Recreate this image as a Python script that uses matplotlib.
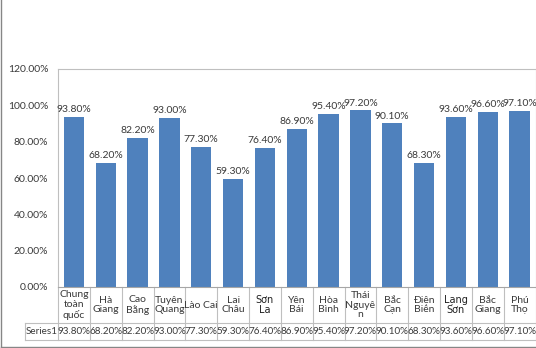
import matplotlib
matplotlib.use("Agg")
import matplotlib.pyplot as plt
from matplotlib.lines import Line2D
from matplotlib.ticker import FuncFormatter

categories = ["Chung\ntoàn\nquốc", "Hà\nGiang", "Cao\nBằng", "Tuyên\nQuang", "Lào Cai",
              "Lai\nChâu", "Sơn\nLa", "Yên\nBái", "Hòa\nBình", "Thái\nNguyê\nn",
              "Bắc\nCạn", "Điện\nBiên", "Lạng\nSơn", "Bắc\nGiang", "Phú\nThọ"]
values = [93.80, 68.20, 82.20, 93.00, 77.30, 59.30, 76.40, 86.90, 95.40, 97.20,
          90.10, 68.30, 93.60, 96.60, 97.10]
series_name = "Series1"
yticks = [0, 20, 40, 60, 80, 100, 120]

plt.rcParams['font.family'] = ['Lato', 'DejaVu Sans']
TXT = '#3a3a3a'
FS = 7.5
W, H = 536, 348
fig = plt.figure(figsize=(W/100, H/100), dpi=100)
ax_l, ax_r, ax_top, ax_bot = 58, 535.5, 69, 287
ax = fig.add_axes([ax_l/W, 1-ax_bot/H, (ax_r-ax_l)/W, (ax_bot-ax_top)/H])

x = list(range(len(categories)))
bars = ax.bar(x, values, width=0.64, color='#4f81bd', zorder=2)
ax.bar_label(bars, labels=[f"{v:.2f}%" for v in values], padding=2, fontsize=FS, color=TXT)

ax.set_xlim(-0.5, len(categories)-0.5)
ax.set_ylim(0, 120)
ax.set_yticks(yticks)
ax.yaxis.set_major_formatter(FuncFormatter(lambda v, p: f"{v:.2f}%"))
ax.tick_params(axis='y', length=0, labelsize=FS, labelcolor=TXT, pad=7)
ax.set_xticks([])
for s in ax.spines.values():
    s.set_color('#bfbfbf')
    s.set_linewidth(0.8)
ax.spines['bottom'].set_color('#a6a6a6')

# data table
ph = ax_bot - ax_top
def ay(py):
    return -(py - ax_bot) / ph
row1_bot = ay(323)
row2_bot = ay(340)
left_cell = (25 - ax_l) / (ax_r - ax_l)
xt = ax.get_xaxis_transform()
lc = '#bfbfbf'
for i in range(len(categories) + 1):
    ax.plot([i-0.5, i-0.5], [0, row2_bot], transform=xt, color=lc, lw=0.8, clip_on=False)
ax.plot([left_cell, 1], [row1_bot, row1_bot], transform=ax.transAxes, color=lc, lw=0.8, clip_on=False)
ax.plot([left_cell, 1], [row2_bot, row2_bot], transform=ax.transAxes, color=lc, lw=0.8, clip_on=False)
ax.plot([left_cell, left_cell], [row1_bot, row2_bot], transform=ax.transAxes, color=lc, lw=0.8, clip_on=False)
for i, (c, v) in enumerate(zip(categories, values)):
    if 'ơ' in c:
        ax.text(i, (0 + row1_bot)/2, c, transform=xt, ha='center', va='center',
                fontsize=7, color='#202020', linespacing=1.1, clip_on=False,
                family='DejaVu Sans')
    else:
        ax.text(i, (0 + row1_bot)/2, c, transform=xt, ha='center', va='center',
                fontsize=FS, color=TXT, linespacing=1.1, clip_on=False)
    ax.text(i, (row1_bot + row2_bot)/2, f"{v:.2f}%", transform=xt, ha='center', va='center',
            fontsize=7.1, color=TXT, clip_on=False)
ax.text((left_cell + 0)/2, (row1_bot + row2_bot)/2, series_name, transform=ax.transAxes,
        ha='center', va='center', fontsize=7.1, color=TXT, clip_on=False)

# outer frame (left and bottom visible in reference)
fig.add_artist(Line2D([0.5/W, 0.5/W], [1-346.5/H, 1], transform=fig.transFigure,
                      color='#868686', lw=1))
fig.add_artist(Line2D([0.5/W, 1], [1-346.5/H, 1-346.5/H], transform=fig.transFigure,
                      color='#868686', lw=1))
fig.savefig("out.png", dpi=100)
